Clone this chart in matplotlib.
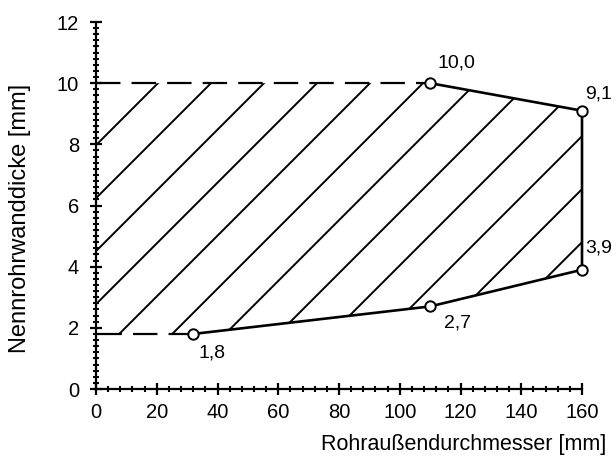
import numpy as np
import matplotlib
matplotlib.use('Agg')
import matplotlib.pyplot as plt
from matplotlib.patches import Polygon
from matplotlib.ticker import MultipleLocator

plt.rcParams['font.family'] = ['Liberation Sans', 'DejaVu Sans']

# boundary points: outer diameter [mm] vs nominal wall thickness [mm]
pt_x = [32, 110, 160, 160, 110]
pt_y = [1.8, 10.0, 9.1, 3.9, 2.7]
pt_lbl = ['1,8', '10,0', '9,1', '3,9', '2,7']

# region outline (closed), left side limited by the axis
reg_x = [0, 110, 160, 160, 110, 32, 0]
reg_y = [10.0, 10.0, 9.1, 3.9, 2.7, 1.8, 1.8]

fig = plt.figure(figsize=(6.16, 4.69), dpi=100)
ax = fig.add_axes([96 / 616, 1 - 389 / 469, 486 / 616, 367 / 469])
ax.set_xlim(0, 160)
ax.set_ylim(0, 12)

# hatch lines at 45 deg on screen, clipped to the region
poly = Polygon(list(zip(reg_x, reg_y)), closed=True, facecolor='none',
               edgecolor='none')
ax.add_patch(poly)
slope = (486 / 160) / (367 / 12)
hatch_top = np.concatenate([20.4 - 17.45 * np.arange(2, 8),
                            20.4 + 17.45 * np.arange(0, 15)])
for xt in hatch_top:
    xs = np.array([-100, 300])
    ys = 10 + (xs - xt) * slope
    ln, = ax.plot(xs, ys, color='black', lw=1.4, solid_capstyle='butt')
    ln.set_clip_path(poly)

# dashed open sides
ax.plot([reg_x[0], reg_x[1]], [reg_y[0], reg_y[1]], color='black', lw=1.6,
        dashes=(11, 5), clip_on=False)
ax.plot([reg_x[5], reg_x[6]], [reg_y[5], reg_y[6]], color='black', lw=1.6,
        dashes=(11, 5), clip_on=False)
# solid boundary
ax.plot(reg_x[1:6], reg_y[1:6], color='black', lw=1.9, clip_on=False,
        zorder=3)
ax.plot(pt_x, pt_y, 'o', ms=7.5, mfc='white', mec='black', mew=1.4,
        clip_on=False, zorder=4)

offsets = {'1,8': (3.6, -13.7), '10,0': (5, 14.4), '9,1': (2.2, 12.2),
           '3,9': (2.2, 15.5), '2,7': (10, -12.2)}
for x, y, t in zip(pt_x, pt_y, pt_lbl):
    ax.annotate(t, (x, y), xytext=offsets[t], textcoords='offset points',
                fontsize=14, ha='left', va='center')

for s in ['top', 'right']:
    ax.spines[s].set_visible(False)
for s in ['left', 'bottom']:
    ax.spines[s].set_linewidth(1.6)

ax.xaxis.set_major_locator(MultipleLocator(20))
ax.xaxis.set_minor_locator(MultipleLocator(4))
ax.yaxis.set_major_locator(MultipleLocator(2))
ax.yaxis.set_minor_locator(MultipleLocator(0.2))
ax.tick_params(which='major', direction='inout', length=8.4, width=1.6,
               labelsize=14.5)
ax.tick_params(axis='x', which='major', pad=6)
ax.tick_params(axis='y', which='major', pad=8)
ax.tick_params(which='minor', direction='inout', length=4.8, width=1.5)

ax.set_xlabel('Rohraußendurchmesser [mm]', fontsize=15.5, va='center')
ax.set_ylabel('Nennrohrwanddicke [mm]', fontsize=17, va='center')
ax.xaxis.set_label_coords(0.757, -0.152)
ax.yaxis.set_label_coords(-0.156, 0.465)

fig.savefig('out.png', dpi=100)
